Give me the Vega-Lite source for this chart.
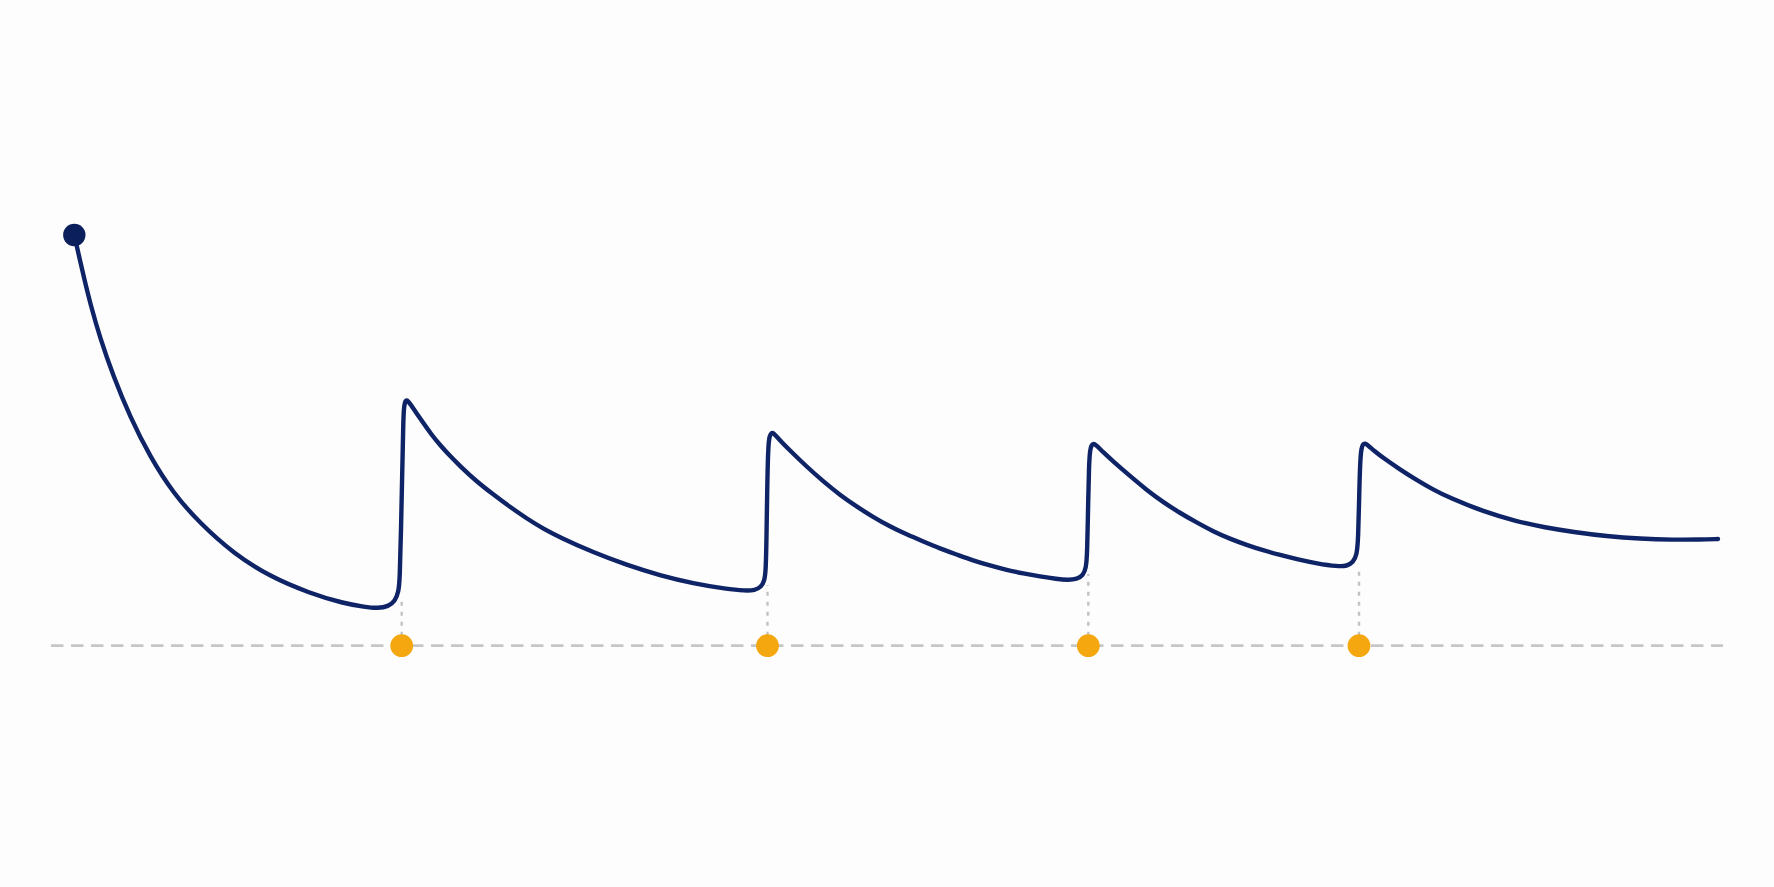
{
  "$schema": "https://vega.github.io/schema/vega-lite/v6.json",
  "width": 1774,
  "height": 887,
  "autosize": {"type": "fit", "contains": "padding"},
  "padding": 0,
  "background": "#fdfdfd",
  "config": {"view": {"stroke": null}},
  "datasets": {
    "curve": [
      {"t": 74.3, "level": 235},
      {"t": 77, "level": 247},
      {"t": 80, "level": 260.5},
      {"t": 85, "level": 282},
      {"t": 90, "level": 302.5},
      {"t": 100, "level": 338},
      {"t": 113.3, "level": 376},
      {"t": 130, "level": 416.7},
      {"t": 150, "level": 456.7},
      {"t": 173.3, "level": 493.3},
      {"t": 200, "level": 523.3},
      {"t": 233.3, "level": 553.3},
      {"t": 270, "level": 576.7},
      {"t": 310, "level": 593.3},
      {"t": 343.3, "level": 603.3},
      {"t": 365, "level": 607},
      {"t": 378, "level": 608.3},
      {"t": 388.3, "level": 606.5},
      {"t": 395, "level": 601},
      {"t": 398.5, "level": 592},
      {"t": 399.8, "level": 580},
      {"t": 401, "level": 530},
      {"t": 402.3, "level": 470},
      {"t": 403.3, "level": 420},
      {"t": 404, "level": 406},
      {"t": 405.5, "level": 400.5},
      {"t": 407, "level": 400},
      {"t": 409, "level": 402.5},
      {"t": 411, "level": 405},
      {"t": 416, "level": 412.5},
      {"t": 423.3, "level": 423},
      {"t": 431, "level": 434},
      {"t": 440, "level": 445},
      {"t": 450, "level": 456},
      {"t": 460, "level": 466},
      {"t": 476, "level": 481},
      {"t": 493.3, "level": 494.5},
      {"t": 510, "level": 507},
      {"t": 526.7, "level": 518.5},
      {"t": 543, "level": 528.5},
      {"t": 560, "level": 537.5},
      {"t": 593.3, "level": 552.5},
      {"t": 626.7, "level": 565},
      {"t": 660, "level": 575.5},
      {"t": 693.3, "level": 583.5},
      {"t": 726.7, "level": 589},
      {"t": 745, "level": 590.8},
      {"t": 755, "level": 590.3},
      {"t": 761, "level": 587},
      {"t": 764.5, "level": 581},
      {"t": 765.8, "level": 570},
      {"t": 766.5, "level": 540},
      {"t": 767.3, "level": 480},
      {"t": 768.3, "level": 445},
      {"t": 769.5, "level": 436},
      {"t": 771.5, "level": 432.5},
      {"t": 773.5, "level": 433},
      {"t": 776, "level": 436},
      {"t": 782, "level": 442.5},
      {"t": 790, "level": 450.5},
      {"t": 806, "level": 466},
      {"t": 823.3, "level": 481.5},
      {"t": 840, "level": 495},
      {"t": 856.7, "level": 506.5},
      {"t": 873, "level": 517},
      {"t": 890, "level": 526.5},
      {"t": 906.7, "level": 534.5},
      {"t": 923.3, "level": 541.5},
      {"t": 940, "level": 548.5},
      {"t": 956.7, "level": 554.5},
      {"t": 973, "level": 560.5},
      {"t": 990, "level": 565.5},
      {"t": 1006.7, "level": 570},
      {"t": 1023.3, "level": 573.5},
      {"t": 1040, "level": 576.5},
      {"t": 1056.7, "level": 579},
      {"t": 1068, "level": 580},
      {"t": 1077, "level": 579.2},
      {"t": 1083, "level": 575.5},
      {"t": 1086, "level": 568},
      {"t": 1087.2, "level": 555},
      {"t": 1088.2, "level": 500},
      {"t": 1089, "level": 465},
      {"t": 1090, "level": 450},
      {"t": 1091.5, "level": 445},
      {"t": 1093.5, "level": 443.5},
      {"t": 1096, "level": 445},
      {"t": 1103, "level": 452},
      {"t": 1113.3, "level": 461.5},
      {"t": 1130, "level": 476},
      {"t": 1146.7, "level": 490},
      {"t": 1163, "level": 502},
      {"t": 1180, "level": 513},
      {"t": 1196.7, "level": 522.5},
      {"t": 1213.3, "level": 531.5},
      {"t": 1230, "level": 538.8},
      {"t": 1246.7, "level": 545},
      {"t": 1263, "level": 550.3},
      {"t": 1280, "level": 555},
      {"t": 1298, "level": 559.5},
      {"t": 1316.7, "level": 563.5},
      {"t": 1338, "level": 566.5},
      {"t": 1347, "level": 566},
      {"t": 1353, "level": 562.5},
      {"t": 1356.8, "level": 555},
      {"t": 1358.2, "level": 540},
      {"t": 1359.3, "level": 490},
      {"t": 1360.3, "level": 458},
      {"t": 1361.5, "level": 448},
      {"t": 1363, "level": 444},
      {"t": 1365, "level": 443.3},
      {"t": 1367.5, "level": 445},
      {"t": 1375, "level": 451.5},
      {"t": 1383.3, "level": 458},
      {"t": 1400, "level": 469.5},
      {"t": 1416.7, "level": 480},
      {"t": 1433, "level": 489.5},
      {"t": 1450, "level": 498},
      {"t": 1483.3, "level": 511.5},
      {"t": 1516.7, "level": 521.5},
      {"t": 1545, "level": 527.5},
      {"t": 1573.3, "level": 532},
      {"t": 1606.7, "level": 536.3},
      {"t": 1640, "level": 538.8},
      {"t": 1673.3, "level": 539.8},
      {"t": 1700, "level": 539.6},
      {"t": 1718, "level": 539}
    ],
    "doses": [
      {"t": 401.7, "base": 645.7, "trough": 601},
      {"t": 767.5, "base": 645.7, "trough": 585},
      {"t": 1088.3, "base": 645.7, "trough": 574},
      {"t": 1359, "base": 645.7, "trough": 568}
    ],
    "baseline": [
      {"t0": 51, "t1": 1723, "base": 645.7}
    ],
    "start": [
      {"t": 74.3, "level": 235}
    ]
  },
  "layer": [
    {
      "data": {"name": "baseline"},
      "mark": {"type": "rule", "stroke": "#c6c6c6", "strokeWidth": 2.8, "strokeDash": [12.5, 7.5]},
      "encoding": {
        "x": {"field": "t0", "type": "quantitative", "scale": {"domain": [0, 1774]}, "axis": null},
        "x2": {"field": "t1"},
        "y": {"field": "base", "type": "quantitative", "scale": {"domain": [0, 887], "reverse": true}, "axis": null}
      }
    },
    {
      "data": {"name": "doses"},
      "mark": {"type": "rule", "stroke": "#c2c2c2", "strokeWidth": 2.4, "strokeDash": [4, 6]},
      "encoding": {
        "x": {"field": "t", "type": "quantitative", "scale": {"domain": [0, 1774]}, "axis": null},
        "y": {"field": "base", "type": "quantitative", "scale": {"domain": [0, 887], "reverse": true}, "axis": null},
        "y2": {"field": "trough"}
      }
    },
    {
      "data": {"name": "doses"},
      "mark": {"type": "circle", "color": "#f4a70e", "opacity": 1, "size": 520},
      "encoding": {
        "x": {"field": "t", "type": "quantitative", "scale": {"domain": [0, 1774]}, "axis": null},
        "y": {"field": "base", "type": "quantitative", "scale": {"domain": [0, 887], "reverse": true}, "axis": null}
      }
    },
    {
      "data": {"name": "curve"},
      "mark": {"type": "line", "interpolate": "basis", "color": "#0f2466", "strokeWidth": 4.4, "strokeCap": "round", "strokeJoin": "round"},
      "encoding": {
        "x": {"field": "t", "type": "quantitative", "scale": {"domain": [0, 1774]}, "axis": null},
        "y": {"field": "level", "type": "quantitative", "scale": {"domain": [0, 887], "reverse": true}, "axis": null}
      }
    },
    {
      "data": {"name": "start"},
      "mark": {"type": "circle", "color": "#0b1f5c", "opacity": 1, "size": 500},
      "encoding": {
        "x": {"field": "t", "type": "quantitative", "scale": {"domain": [0, 1774]}, "axis": null},
        "y": {"field": "level", "type": "quantitative", "scale": {"domain": [0, 887], "reverse": true}, "axis": null}
      }
    }
  ]
}
